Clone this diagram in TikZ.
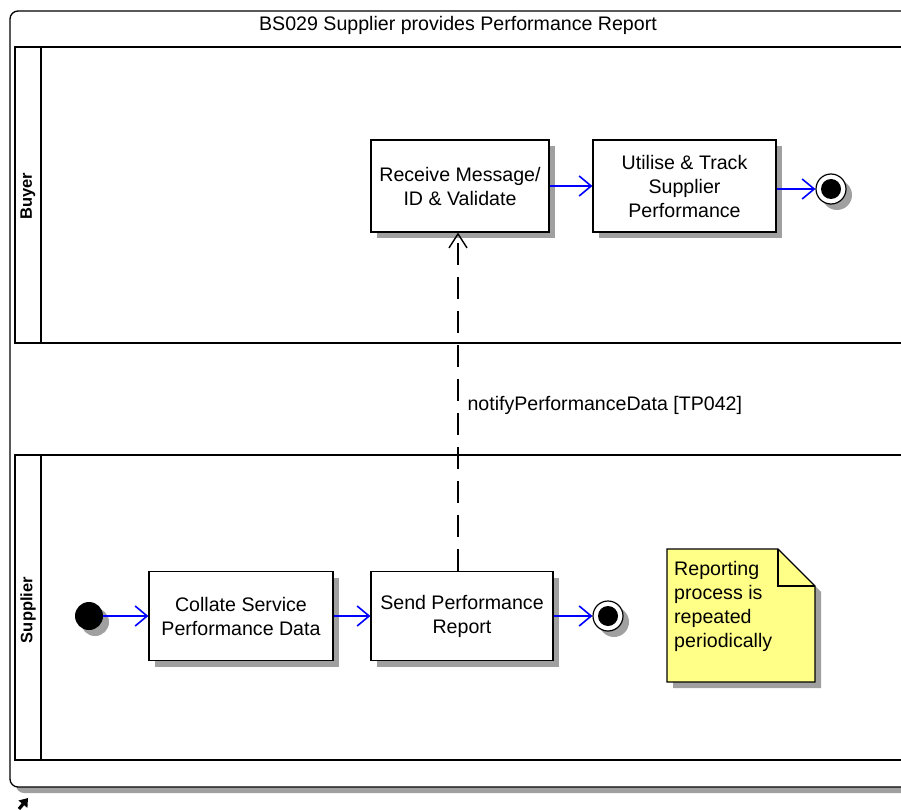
\documentclass[tikz,border=0pt]{standalone}
\usepackage{fontspec}
\setmainfont{Liberation Sans}
\usetikzlibrary{arrows.meta,shadows}
\definecolor{shadowgray}{RGB}{160,160,160}
\definecolor{noteyellow}{RGB}{255,255,136}
\begin{document}
\begin{tikzpicture}[x=1pt,y=-1pt,
  font=\fontsize{19.6}{24}\selectfont,
  shad/.style={drop shadow={shadow xshift=6pt,shadow yshift=-6pt,fill=shadowgray,opacity=1}},
  act/.style={draw,line width=1.2pt,fill=white,align=center,inner sep=0pt,shad},
  flow/.style={draw=blue,line width=1.6pt,-{Straight Barb[length=12pt,width=20pt,line width=1.6pt]}},
  msg/.style={draw,line width=1.4pt,dash pattern=on 22pt off 12pt,-{Straight Barb[length=14pt,width=18pt,line width=1.4pt]}},
  lanebox/.style={draw,line width=1.2pt},
  lanelabel/.style={rotate=90,font=\fontsize{16.5}{18}\selectfont\bfseries}]
\useasboundingbox (0,0) rectangle (901,810);
\clip (0,0) rectangle (901,810);
% outer frame
\fill[shadowgray,rounded corners=8pt] (16,17) rectangle (930,793);
\draw[line width=1.3pt,fill=white,rounded corners=8pt] (10,11) rectangle (920,787);
\node (title) at (458,25) {BS029 Supplier provides Performance Report};
% lanes
\draw[lanebox] (15,47) rectangle (920,343);
\draw[lanebox] (41,47) -- (41,343);
\node[lanelabel] (buyer) at (28,196) {Buyer};
\draw[lanebox] (15,455) rectangle (920,760);
\draw[lanebox] (41,455) -- (41,760);
\node[lanelabel] (supplier) at (28,610) {Supplier};
% buyer activities
\node[act,minimum width=178,minimum height=92] (recv) at (460,186) {Receive Message/\\ID \& Validate};
\node[act,minimum width=183,minimum height=92] (util) at (684.5,186) {Utilise \& Track\\Supplier\\Performance};
\node[circle,draw,line width=1.2pt,fill=white,minimum size=30,inner sep=0pt,shad] (endb) at (831,189) {};
\fill (endb) circle (10);
% supplier activities
\node[circle,fill=black,minimum size=28,inner sep=0pt,shad] (start) at (89,616) {};
\node[act,minimum width=184,minimum height=89] (coll) at (241,616) {Collate Service\\Performance Data};
\node[act,minimum width=182,minimum height=89] (send) at (462,616) {Send Performance\\Report};
\node[circle,draw,line width=1.2pt,fill=white,minimum size=30,inner sep=0pt,shad] (ends) at (608,616) {};
\fill (ends) circle (10);
% flows
\draw[flow] (start) -- (coll);
\draw[flow] (coll) -- (send);
\draw[flow] (send) -- (ends);
\draw[flow] (recv.east |- 0,186) -- (util.west |- 0,186);
\draw[flow] (util.east |- 0,189) -- (endb);
% message
\coordinate (msgstart) at ([xshift=-4pt]send.north);
\coordinate (msgend) at ([xshift=-2pt]recv.south);
\draw[msg] (msgstart) -- (msgend);
\node[anchor=west] (msglabel) at (464,405) {notifyPerformanceData [TP042]};
% note
\fill[shadowgray] (673,555) -- (784,555) -- (821,592) -- (821,688) -- (673,688) -- cycle;
\draw[line width=1.2pt,fill=noteyellow] (667,549) -- (778,549) -- (815,586) -- (815,682) -- (667,682) -- cycle;
\draw[line width=1.2pt] (778,549) -- (778,586) -- (815,586);
\node[anchor=north west,align=left,inner sep=0pt] (note) at (674,561) {Reporting\\process is\\repeated\\periodically};
% corner arrow
\draw[line width=3.2pt,-{Triangle[length=8pt,width=11pt]}] (19,809) -- (28,798);
\end{tikzpicture}
\end{document}
